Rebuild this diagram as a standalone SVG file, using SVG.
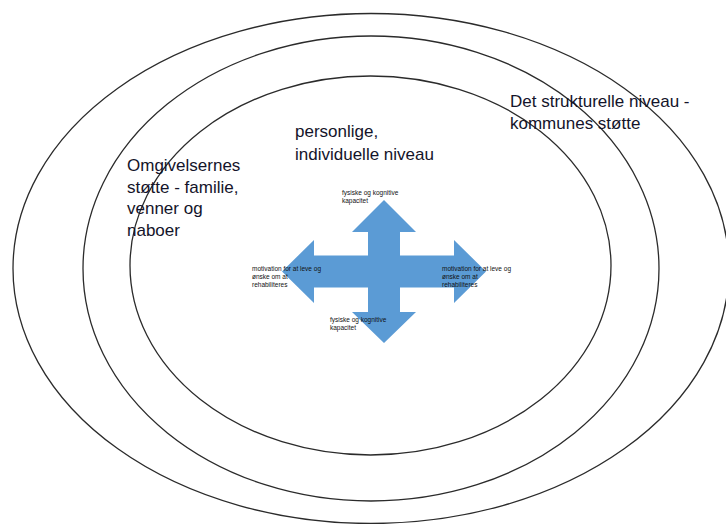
<svg xmlns="http://www.w3.org/2000/svg" width="726" height="524" viewBox="0 0 726 524">
  <style>
    .ring { fill: none; stroke: #2b2b2b; stroke-width: 1.3; }
    .label { font-family: "Liberation Sans", Arial, sans-serif; font-size: 17px; fill: #14142a; }
    .small { font-family: "Liberation Sans", Arial, sans-serif; font-size: 6.5px; fill: #111; }
    .cross { fill: #5b9bd5; }
  </style>
  <rect width="726" height="524" fill="#fff"/>

  <!-- outer ring: structural level -->
  <g id="ring-structural">
    <ellipse class="ring" cx="371" cy="268.5" rx="358" ry="255"/>
  </g>
  <!-- middle ring: surroundings -->
  <g id="ring-surroundings">
    <ellipse class="ring" cx="371" cy="268.5" rx="288" ry="232.5"/>
  </g>
  <!-- inner ring: personal level -->
  <g id="ring-personal">
    <ellipse class="ring" cx="370.5" cy="265.5" rx="240.5" ry="189.5"/>
  </g>

  <!-- four-way arrow -->
  <g id="cross-arrow">
    <polygon class="cross" points="384,200 416,232 400,232 400,255.5 454,255.5 454,240 486,271.5 454,303 454,287.5 400,287.5 400,312 416,312 384,343 352,312 368,312 368,287.5 314,287.5 314,303 282,271.5 314,240 314,255.5 368,255.5 368,232 352,232"/>
  </g>

  <g id="connectors"></g>

  <g id="labels">
    <text class="label" x="510" y="107">Det strukturelle niveau -</text>
    <text class="label" x="510" y="129">kommunes støtte</text>

    <text class="label" x="295" y="137">personlige,</text>
    <text class="label" x="295" y="160">individuelle niveau</text>

    <text class="label" x="127" y="171">Omgivelsernes</text>
    <text class="label" x="127" y="193">støtte - familie,</text>
    <text class="label" x="127" y="214">venner og</text>
    <text class="label" x="127" y="236">naboer</text>

    <text class="small" x="342" y="195">fysiske og kognitive</text>
    <text class="small" x="342" y="203">kapacitet</text>

    <text class="small" x="330" y="322">fysiske og kognitive</text>
    <text class="small" x="330" y="330">kapacitet</text>

    <text class="small" x="252" y="271">motivation for at leve og</text>
    <text class="small" x="252" y="279">ønske om at</text>
    <text class="small" x="252" y="287">rehabiliteres</text>

    <text class="small" x="442" y="271">motivation for at leve og</text>
    <text class="small" x="442" y="279">ønske om at</text>
    <text class="small" x="442" y="287">rehabiliteres</text>
  </g>
</svg>
